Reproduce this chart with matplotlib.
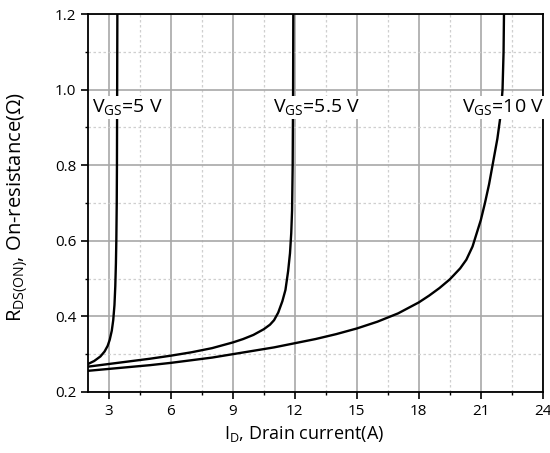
import matplotlib
matplotlib.use("Agg")
from matplotlib import pyplot as plt
from matplotlib.ticker import MultipleLocator

plt.rcParams["font.family"] = ["Open Sans", "DejaVu Sans"]
plt.rcParams["mathtext.fontset"] = "custom"
plt.rcParams["mathtext.rm"] = "Open Sans"
plt.rcParams["mathtext.it"] = "Open Sans"

# R_DS(on) vs drain current
ID_5V = [2.0, 2.3, 2.6, 2.8, 2.95, 3.05, 3.15, 3.22, 3.28, 3.32, 3.35, 3.37, 3.39, 3.4, 3.41, 3.42]
RDS_5V = [0.274, 0.282, 0.294, 0.307, 0.322, 0.338, 0.362, 0.39, 0.43, 0.48, 0.54, 0.6, 0.7, 0.8, 1.0, 1.2]

ID_55V = [2, 3, 4, 5, 6, 7, 8, 9, 9.5, 10, 10.5, 10.8, 11.0, 11.2, 11.4, 11.55,
          11.68, 11.77, 11.83, 11.87, 11.9, 11.92, 11.93]
RDS_55V = [0.267, 0.274, 0.281, 0.288, 0.296, 0.305, 0.316, 0.331, 0.34, 0.351, 0.366, 0.378, 0.39,
           0.41, 0.44, 0.47, 0.52, 0.567, 0.62, 0.68, 0.8, 1.0, 1.2]

ID_10V = [2, 3, 4, 5, 6, 7, 8, 9, 10, 11, 12, 13, 14, 15, 16, 17, 18, 18.5, 19, 19.5, 20,
          20.3, 20.6, 20.8, 21.0, 21.2, 21.4, 21.6, 21.8, 21.95, 22.05, 22.1, 22.12]
RDS_10V = [0.256, 0.261, 0.266, 0.271, 0.277, 0.284, 0.291, 0.3, 0.309, 0.318, 0.329, 0.34, 0.353,
           0.368, 0.386, 0.408, 0.437, 0.455, 0.475, 0.498, 0.527, 0.55, 0.585, 0.62, 0.655, 0.7,
           0.75, 0.81, 0.87, 0.93, 1.0, 1.1, 1.2]

fig = plt.figure(figsize=(5.5, 4.53), dpi=100)
ax = fig.add_axes([0.16, 0.1347, 0.827, 0.8343])

for x, y in [(ID_5V, RDS_5V), (ID_55V, RDS_55V), (ID_10V, RDS_10V)]:
    ax.plot(x, y, color="black", lw=1.7, zorder=3)

labels = [(2.19, r"$\mathregular{V_{GS}}$=5 V"),
          (10.95, r"$\mathregular{V_{GS}}$=5.5 V"),
          (20.09, r"$\mathregular{V_{GS}}$=10 V")]
for x, txt in labels:
    ax.text(x, 0.94, txt, fontsize=14, va="baseline", ha="left", zorder=4,
            bbox=dict(facecolor="white", edgecolor="none", pad=1.0))

ax.set_xlim(2, 24)
ax.set_ylim(0.2, 1.2)
ax.set_xticks([3, 6, 9, 12, 15, 18, 21, 24])
ax.xaxis.set_minor_locator(MultipleLocator(1.5))
ax.yaxis.set_major_locator(MultipleLocator(0.2))
ax.yaxis.set_minor_locator(MultipleLocator(0.1))
ax.xaxis.set_major_formatter(plt.FuncFormatter(lambda v, p: f"{v:g}"))
ax.yaxis.set_major_formatter(plt.FuncFormatter(lambda v, p: f"{v:.1f}"))

ax.grid(which="major", color="#a8a8a8", lw=1.2)
ax.grid(which="minor", color="#cfcfcf", lw=0.9, ls=(0, (2, 2)))
ax.set_axisbelow(True)

ax.tick_params(which="major", direction="out", length=5, width=1.2, labelsize=11, color="black")
ax.tick_params(which="minor", direction="out", length=2.5, width=1.0)
for s in ax.spines.values():
    s.set_linewidth(1.3)

ax.set_xlabel(r"$\mathregular{I_D}$, Drain current(A)", fontsize=13, labelpad=3)
ax.xaxis.set_label_coords(0.474, -0.085)
ax.set_ylabel(r"$\mathregular{R_{DS(ON)}}$, On-resistance(Ω)", fontsize=14.5)
ax.yaxis.set_label_coords(-0.127, 0.49)

fig.savefig("out.png", dpi=100)
